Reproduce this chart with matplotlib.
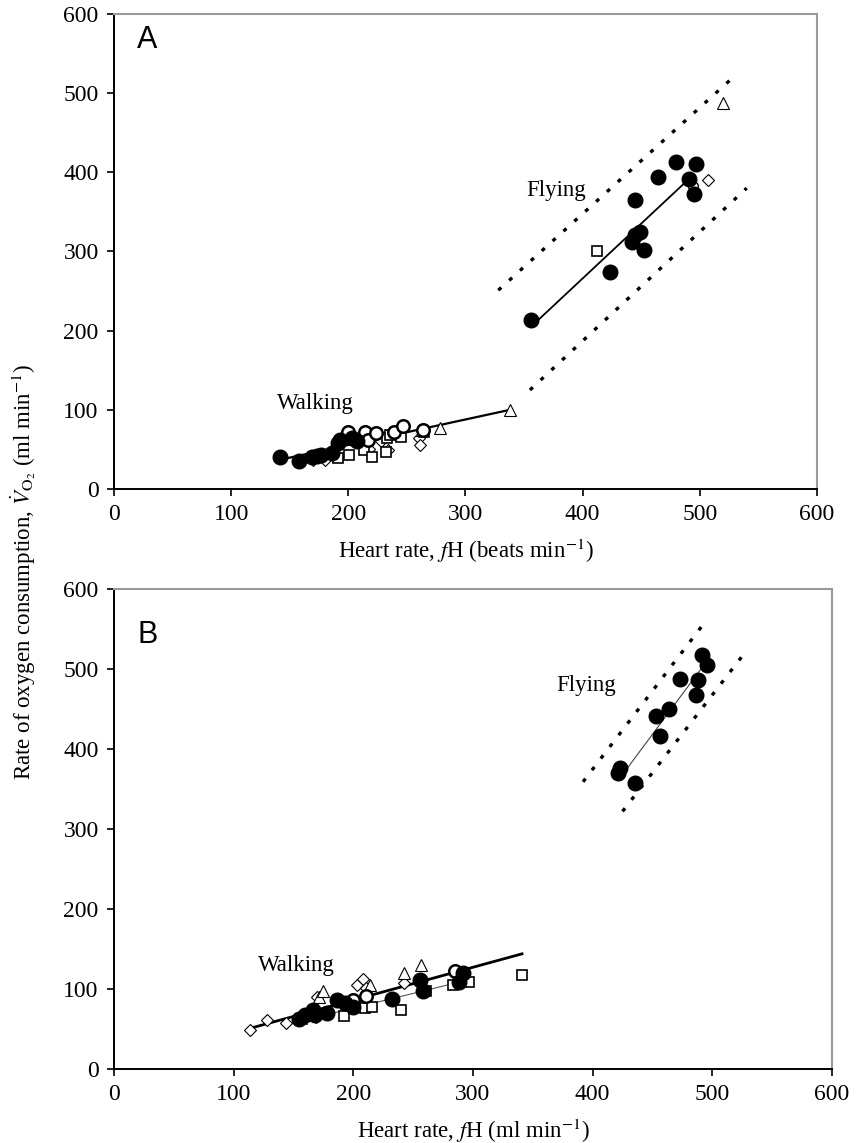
import matplotlib.pyplot as plt

plt.rcParams['font.family'] = ['Liberation Serif', 'DejaVu Serif']
plt.rcParams['mathtext.fontset'] = 'stix'

# ---- panel A, walking ----
a_walk_filled_x = [142, 158, 169, 173, 177, 186, 191, 193, 203, 207]
a_walk_filled_y = [41, 35, 41, 42, 43, 45, 58, 62, 64, 60]
a_walk_circ_x = [200, 214, 217, 224, 239, 247, 264]
a_walk_circ_y = [72, 72, 62, 71, 72, 79, 75]
a_walk_sq_x = [191, 201, 213, 220, 232, 233, 236, 245, 265]
a_walk_sq_y = [39, 43, 49, 41, 47, 65, 68, 66, 72]
a_walk_dia_x = [170, 180, 218, 228, 234, 260, 261]
a_walk_dia_y = [37, 37, 50, 60, 49, 65, 55]
a_walk_tri_x = [263, 278, 338]
a_walk_tri_y = [75, 77, 100]
a_walk_fit_x = [142, 338]
a_walk_fit_y = [37, 100]

# ---- panel A, flying ----
a_fly_filled_x = [356, 423, 442, 445, 449, 452, 445, 464, 480, 497, 491, 495]
a_fly_filled_y = [213, 274, 312, 321, 325, 302, 365, 394, 413, 410, 392, 372]
a_fly_circ_x = [494]
a_fly_circ_y = [383]
a_fly_sq_x = [412]
a_fly_sq_y = [300]
a_fly_dia_x = [507]
a_fly_dia_y = [390]
a_fly_tri_x = [520]
a_fly_tri_y = [487]
a_fly_fit_x = [356, 491]
a_fly_fit_y = [205, 392]
a_fly_upper_x = [328, 527]
a_fly_upper_y = [251, 518]
a_fly_lower_x = [355, 540]
a_fly_lower_y = [125, 380]

# ---- panel B, walking ----
b_walk_filled_x = [155, 160, 166, 168, 178, 186, 193, 200, 232, 256, 258, 288, 292]
b_walk_filled_y = [63, 68, 74, 68, 70, 86, 82, 78, 88, 111, 97, 109, 120]
b_walk_circ_x = [200, 211, 285]
b_walk_circ_y = [86, 91, 123]
b_walk_sq_x = [157, 192, 210, 216, 240, 261, 283, 297, 341]
b_walk_sq_y = [62, 66, 76, 77, 74, 97, 105, 109, 118]
b_walk_dia_x = [114, 128, 144, 169, 170, 203, 208, 211, 242]
b_walk_dia_y = [49, 61, 58, 65, 90, 105, 113, 101, 107]
b_walk_tri_x = [171, 175, 214, 242, 257]
b_walk_tri_y = [90, 97, 105, 120, 130]
b_walk_fit_x = [114, 341]
b_walk_fit_y = [51, 144]
b_walk_fit2_x = [153, 295]
b_walk_fit2_y = [59, 111]

# ---- panel B, flying ----
b_fly_filled_x = [421, 423, 435, 453, 456, 464, 473, 486, 488, 491, 496]
b_fly_filled_y = [370, 376, 358, 441, 416, 450, 488, 467, 486, 518, 505]
b_fly_fit_x = [427, 492]
b_fly_fit_y = [372, 503]
b_fly_upper_x = [392, 491]
b_fly_upper_y = [359, 553]
b_fly_lower_x = [425, 526]
b_fly_lower_y = [322, 518]

ticks = [0, 100, 200, 300, 400, 500, 600]
dots = (0, (1.2, 3.2))


def style_axes(ax):
    ax.set_xlim(0, 600)
    ax.set_ylim(0, 600)
    ax.set_xticks(ticks)
    ax.set_yticks(ticks)
    ax.tick_params(direction='out', length=5, width=1.2, labelsize=17, pad=6)
    for s in ['left', 'bottom']:
        ax.spines[s].set_linewidth(1.4)
    for s in ['top', 'right']:
        ax.spines[s].set_color('#9a9a9a')
        ax.spines[s].set_linewidth(1.5)


def open_pts(ax, x, y, marker, ms, mew=1.0):
    ax.plot(x, y, linestyle='none', marker=marker, ms=ms, mfc='white',
            mec='black', mew=mew, zorder=4)


def filled_pts(ax, x, y):
    ax.plot(x, y, linestyle='none', marker='o', ms=10.5, mfc='black',
            mec='black', zorder=5)


fig = plt.figure(figsize=(8.64, 11.43), dpi=100)
axA = fig.add_axes([0.1319, 0.5722, 0.8137, 0.4156])
axB = fig.add_axes([0.1319, 0.0647, 0.8310, 0.4200])

# panel A
axA.plot(a_walk_fit_x, a_walk_fit_y, color='black', lw=1.6, zorder=3)
axA.plot(a_fly_fit_x, a_fly_fit_y, color='black', lw=1.3, zorder=3)
axA.plot(a_fly_upper_x, a_fly_upper_y, color='black', lw=2.4, linestyle=dots)
axA.plot(a_fly_lower_x, a_fly_lower_y, color='black', lw=2.4, linestyle=dots)
open_pts(axA, a_walk_dia_x, a_walk_dia_y, 'D', 6, 0.8)
open_pts(axA, a_walk_sq_x, a_walk_sq_y, 's', 7, 1.2)
open_pts(axA, a_walk_tri_x, a_walk_tri_y, '^', 8, 0.8)
open_pts(axA, a_walk_circ_x, a_walk_circ_y, 'o', 9, 1.8)
filled_pts(axA, a_walk_filled_x, a_walk_filled_y)
open_pts(axA, a_fly_circ_x, a_fly_circ_y, 'o', 7, 1.0)
open_pts(axA, a_fly_sq_x, a_fly_sq_y, 's', 7.5, 1.2)
open_pts(axA, a_fly_dia_x, a_fly_dia_y, 'D', 6, 0.8)
open_pts(axA, a_fly_tri_x, a_fly_tri_y, '^', 8.5, 0.8)
filled_pts(axA, a_fly_filled_x, a_fly_filled_y)
axA.text(139, 108, 'Walking', fontsize=16.5, va='center', ha='left')
axA.text(352, 377, 'Flying', fontsize=16.5, va='center', ha='left')
axA.text(20, 548, 'A', fontsize=22, family='Liberation Sans', va='bottom', ha='left')
axA.set_xlabel(r'Heart rate, $f$H (beats min$^{-1}$)', fontsize=16.5, labelpad=8)
style_axes(axA)

# panel B
axB.plot(b_walk_fit_x, b_walk_fit_y, color='black', lw=2.0, zorder=3)
axB.plot(b_walk_fit2_x, b_walk_fit2_y, color='#555555', lw=0.8, zorder=3)
axB.plot(b_fly_fit_x, b_fly_fit_y, color='#444444', lw=0.8, zorder=3)
axB.plot(b_fly_upper_x, b_fly_upper_y, color='black', lw=2.4, linestyle=dots)
axB.plot(b_fly_lower_x, b_fly_lower_y, color='black', lw=2.4, linestyle=dots)
open_pts(axB, b_walk_dia_x, b_walk_dia_y, 'D', 6.5, 0.8)
open_pts(axB, b_walk_tri_x, b_walk_tri_y, '^', 8.5, 0.8)
open_pts(axB, b_walk_sq_x, b_walk_sq_y, 's', 7.5, 1.2)
filled_pts(axB, b_walk_filled_x, b_walk_filled_y)
open_pts(axB, b_walk_circ_x, b_walk_circ_y, 'o', 9, 1.8)
filled_pts(axB, b_fly_filled_x, b_fly_filled_y)
axB.text(120, 129, 'Walking', fontsize=16.5, va='center', ha='left')
axB.text(370, 479, 'Flying', fontsize=16.5, va='center', ha='left')
axB.text(20, 524, 'B', fontsize=22, family='Liberation Sans', va='bottom', ha='left')
axB.set_xlabel(r'Heart rate, $f$H (ml min$^{-1}$)', fontsize=16.5, labelpad=8)
style_axes(axB)

fig.text(0.027, 0.5, r'Rate of oxygen consumption, $\dot{V}_{\mathrm{O}_2}$ (ml min$^{-1}$)',
         rotation=90, fontsize=16.5, va='center', ha='center')

fig.savefig('out.png', dpi=100)
